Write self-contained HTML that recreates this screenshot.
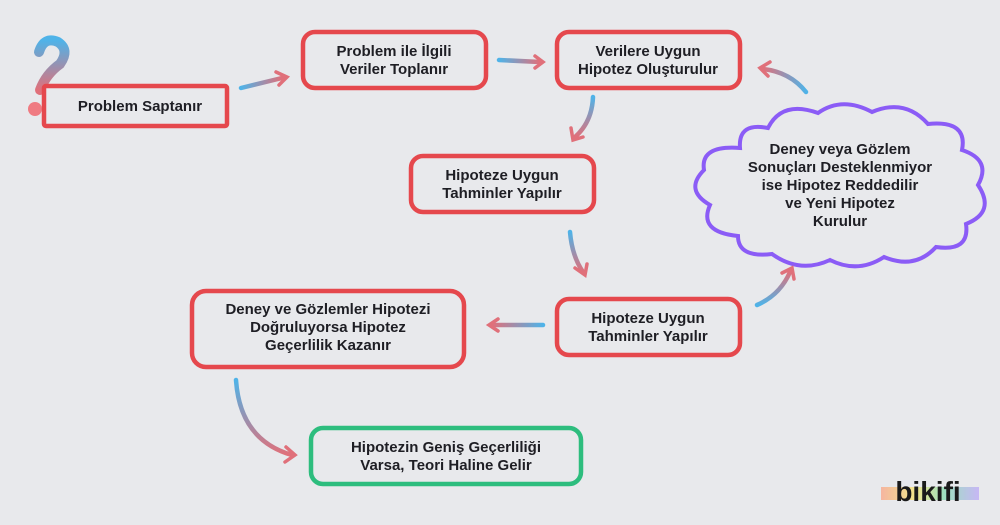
<!DOCTYPE html>
<html><head><meta charset="utf-8"><style>
html,body{margin:0;padding:0;background:#e8e9ec;}
svg{display:block}
text{font-family:"Liberation Sans",sans-serif;font-weight:bold;font-size:15px;fill:#1e1e24;text-anchor:middle}
</style></head><body>
<svg width="1000" height="525" viewBox="0 0 1000 525">
<defs>
<linearGradient id="g" x1="0" y1="0" x2="1" y2="0">
<stop offset="0" stop-color="#4fb3e8"/><stop offset="1" stop-color="#e0707a"/></linearGradient>
<linearGradient id="gv" x1="0" y1="0" x2="0" y2="1">
<stop offset="0" stop-color="#4fb3e8"/><stop offset="1" stop-color="#e0707a"/></linearGradient>
<linearGradient id="gl" x1="1" y1="0" x2="0" y2="0">
<stop offset="0" stop-color="#4fb3e8"/><stop offset="1" stop-color="#e0707a"/></linearGradient>
<linearGradient id="gh" gradientUnits="userSpaceOnUse" x1="543" y1="0" x2="492" y2="0">
<stop offset="0" stop-color="#4fb3e8"/><stop offset="1" stop-color="#e0707a"/></linearGradient>
<linearGradient id="gu" x1="0" y1="1" x2="0" y2="0">
<stop offset="0" stop-color="#4fb3e8"/><stop offset="1" stop-color="#e0707a"/></linearGradient>
<linearGradient id="bk" x1="0" y1="0" x2="1" y2="0">
<stop offset="0" stop-color="#f5b5a0"/><stop offset=".35" stop-color="#f2e58a"/><stop offset=".65" stop-color="#9de0c0"/><stop offset="1" stop-color="#c7b7f5"/></linearGradient>
</defs>
<g fill="none" stroke-width="4.5" stroke-linecap="round">
<path d="M39 52 Q44 36 58 42 Q70 50 60 64 Q46 74 40 90" stroke="url(#gv)" stroke-width="10"/>
<circle cx="35" cy="109" r="7" fill="#ef7b82" stroke="none"/>
<rect x="44" y="86" width="183" height="40" rx="2" stroke="#e5484d" fill="#e8e9ec"/>
<rect x="303" y="32" width="183" height="56" rx="12" stroke="#e5484d"/>
<rect x="557" y="32" width="183" height="56" rx="12" stroke="#e5484d"/>
<rect x="411" y="156" width="183" height="56" rx="12" stroke="#e5484d"/>
<rect x="557" y="299" width="183" height="56" rx="12" stroke="#e5484d"/>
<rect x="192" y="291" width="272" height="76" rx="14" stroke="#e5484d"/>
<rect x="311" y="428" width="270" height="56" rx="12" stroke="#2dbd7e"/>
<path d="M740 148 Q738 122 768 128 Q782 100 818 113 Q842 96 872 112 Q905 98 928 124 Q968 120 962 150 Q992 160 978 185 Q996 212 966 224 Q970 252 936 247 Q915 270 884 257 Q858 274 830 260 Q800 274 772 254 Q738 258 738 236 Q698 232 710 205 Q684 190 704 170 Q700 145 740 148 Z" stroke="#8b5cf6" stroke-width="4" fill="#e8e9ec"/>
<path d="M241 88 L282 78" stroke="url(#g)"/><path d="M276 72 L287 77 L279 85" stroke="#e0707a" stroke-width="3.5"/>
<path d="M499 60 L540 62" stroke="url(#g)"/><path d="M535 56 L543 62 L535 68" stroke="#e0707a" stroke-width="3.5"/>
<path d="M593 97 Q592 122 575 137" stroke="url(#gv)"/><path d="M571 128 L573 140 L583 137" stroke="#e0707a" stroke-width="3.5"/>
<path d="M570 232 Q572 256 583 272" stroke="url(#gv)"/><path d="M575 268 L585 275 L587 264" stroke="#e0707a" stroke-width="3.5"/>
<path d="M806 92 Q790 72 763 69" stroke="url(#gl)"/><path d="M770 62 L760 68 L768 76" stroke="#e0707a" stroke-width="3.5"/>
<path d="M757 305 Q780 295 790 272" stroke="url(#gu)"/><path d="M782 273 L792 268 L794 279" stroke="#e0707a" stroke-width="3.5"/>
<path d="M543 325 L492 325" stroke="url(#gh)"/><path d="M498 319 L489 325 L498 331" stroke="#e0707a" stroke-width="3.5"/>
<path d="M236 380 Q240 440 292 455" stroke="url(#gv)"/><path d="M286 447 L295 455 L285 462" stroke="#e0707a" stroke-width="3.5"/>
</g>
<text x="140" y="111">Problem Saptanır</text>
<text x="394" y="56">Problem ile İlgili</text><text x="394" y="74">Veriler Toplanır</text>
<text x="648" y="56">Verilere Uygun</text><text x="648" y="74">Hipotez Oluşturulur</text>
<text x="502" y="180">Hipoteze Uygun</text><text x="502" y="198">Tahminler Yapılır</text>
<text x="648" y="323">Hipoteze Uygun</text><text x="648" y="341">Tahminler Yapılır</text>
<text x="328" y="314">Deney ve Gözlemler Hipotezi</text><text x="328" y="332">Doğruluyorsa Hipotez</text><text x="328" y="350">Geçerlilik Kazanır</text>
<text x="446" y="452">Hipotezin Geniş Geçerliliği</text><text x="446" y="470">Varsa, Teori Haline Gelir</text>
<text x="840" y="154">Deney veya Gözlem</text><text x="840" y="172">Sonuçları Desteklenmiyor</text><text x="840" y="190">ise Hipotez Reddedilir</text><text x="840" y="208">ve Yeni Hipotez</text><text x="840" y="226">Kurulur</text>
<rect x="881" y="487" width="98" height="13" fill="url(#bk)"/>
<text x="928" y="501" style="font-size:28px;fill:#1a1a1a">bikifi</text>
</svg>
</body></html>
